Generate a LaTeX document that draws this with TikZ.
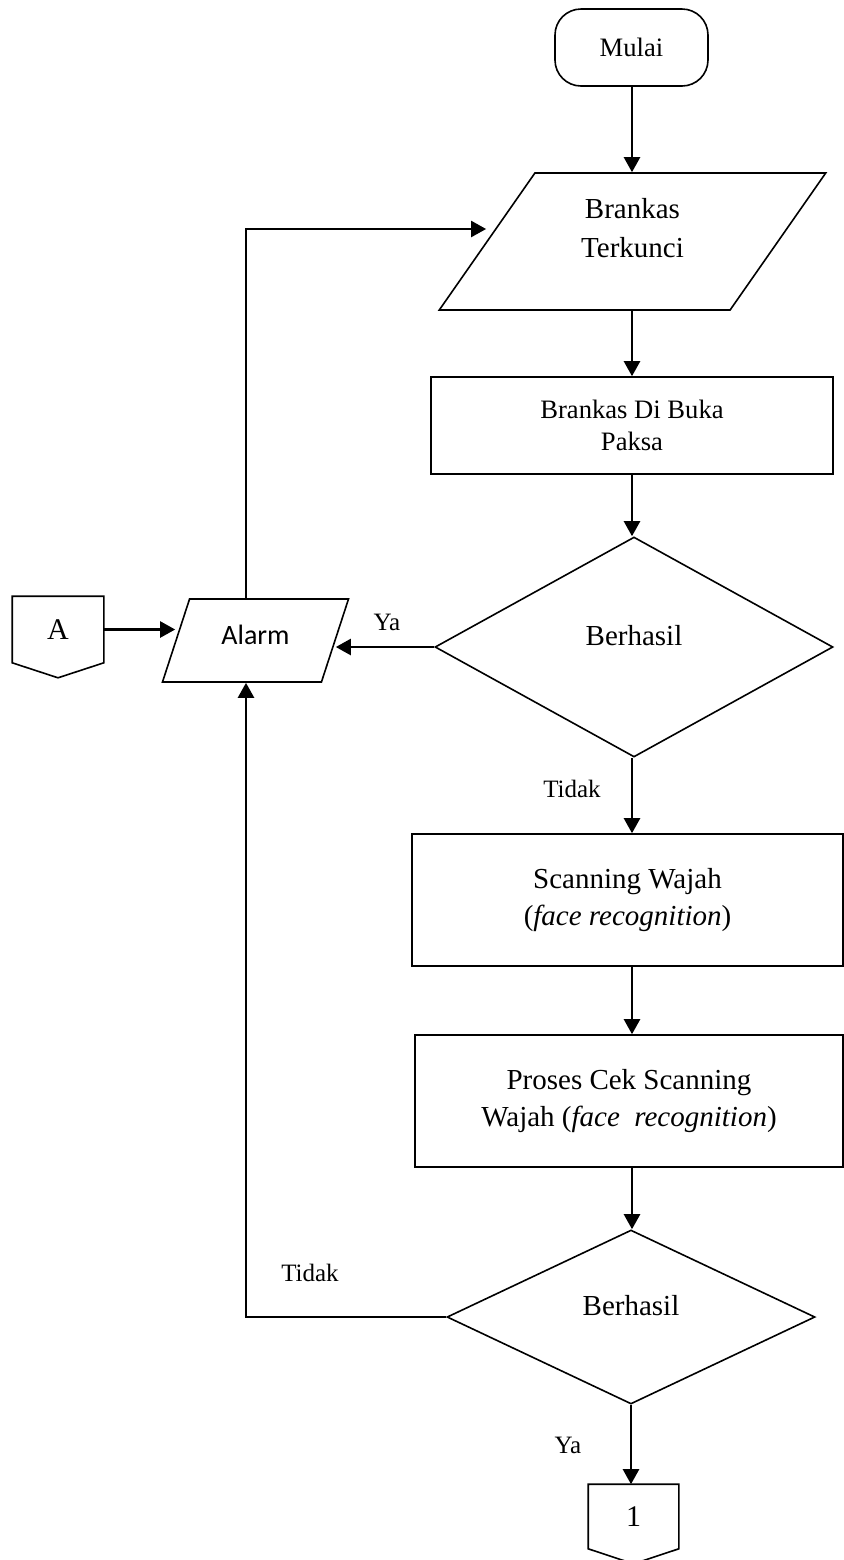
\documentclass[tikz,border=0pt]{standalone}
\usepackage{fontspec}
\setmainfont{Liberation Serif}
\newfontfamily\alarmfont{Carlito}
\usepackage{tikz}
\usetikzlibrary{shapes.geometric,arrows.meta}

\begin{document}
\begin{tikzpicture}[x=0.5pt,y=-0.5pt,
            outline/.style={draw,line width=0.8pt},
            box/.style={outline,inner sep=0pt,align=center,font=\fontsize{14.5}{18.5}\selectfont},
            datain/.style={box,trapezium,trapezium stretches=true},
            decision/.style={box,diamond,text depth=12pt},
            label/.style={font=\fontsize{12.5}{15}\selectfont,inner sep=0pt},
            arrow/.style={line width=1.2pt,-{Triangle[length=7.5pt,width=8pt]}}]
            \useasboundingbox (0,0) rectangle (844,1560);

            %%% COORDINATES %%%
            \coordinate (col) at (632,0);
            \coordinate (kiri) at (246,0);

            %%% SHAPES %%%
            \node[box,rounded corners=13pt,minimum width=76.5pt,minimum height=38.5pt,font=\fontsize{13.3}{16}\selectfont] (mulai) at (631.5,47.5) {Mulai};
            \node[datain,trapezium left angle=60,trapezium right angle=120,minimum width=193.5pt,minimum height=68.5pt,text depth=14pt,font=\fontsize{14.5}{19.5}\selectfont] (terkunci) at (632.5,241.5) {Brankas\\Terkunci};
            \node[box,minimum width=201pt,minimum height=48.5pt,font=\fontsize{13.3}{16}\selectfont] (paksa) at (632,425.5) {Brankas Di Buka\\Paksa};
            \node[decision,minimum width=199pt,minimum height=110pt] (cek1) at (634,647) {Berhasil};
            \node[datain,trapezium left angle=66,trapezium right angle=114,minimum width=93.5pt,minimum height=41.5pt,text depth=6pt,font=\alarmfont\fontsize{14}{17}\selectfont] (alarm) at (255.5,640.5) {Alarm};
            \node[box,draw=none,minimum width=45pt,minimum height=32.5pt,font=\fontsize{15}{18}\selectfont] (conA) at (58,629.5) {A};
            \node[box,minimum width=215.5pt,minimum height=66pt] (scan) at (627.5,900) {Scanning Wajah\\(\textit{face recognition})};
            \node[box,minimum width=214pt,minimum height=66pt] (proses) at (629,1101) {Proses Cek Scanning\\Wajah (\textit{face~ recognition})};
            \node[decision,minimum width=184pt,minimum height=87pt] (cek2) at (631,1317) {Berhasil};
            \node[box,draw=none,minimum width=44.5pt,minimum height=31.5pt,font=\fontsize{15}{18}\selectfont] (con1) at (633.5,1516.5) {1};

            %%% OFF-PAGE CONNECTORS %%%
            \draw[outline] (conA.north west) -- (conA.north east) -- (conA.south east) -- ([yshift=-7.5pt]conA.south) -- (conA.south west) -- cycle;
            \draw[outline] (con1.north west) -- (con1.north east) -- (con1.south east) -- ([yshift=-7.5pt]con1.south) -- (con1.south west) -- cycle;

            %%% LABELS %%%
            \node[label] (ya1) at (387,622) {Ya};
            \node[label] (tidak1) at (572,789) {Tidak};
            \node[label] (tidak2) at (310,1273) {Tidak};
            \node[label] (ya2) at (568,1445) {Ya};

            %%% ARROWS %%%
            \draw[arrow] (col |- mulai.south) -- (col |- terkunci.north);
            \draw[arrow] (col |- terkunci.south) -- (col |- paksa.north);
            \draw[arrow] (col |- paksa.south) -- (col |- cek1.north);
            \draw[arrow] (col |- cek1.south) -- (col |- scan.north);
            \draw[arrow] (col |- scan.south) -- (col |- proses.north);
            \draw[arrow] (col |- proses.south) -- (col |- cek2.north);
            \draw[arrow] (cek2.south) -- (cek2.south |- con1.north);
            \draw[arrow] (cek1.west) -- (cek1.west -| alarm.east);
            \draw[arrow] (conA.east) -- (conA.east -| alarm.west);
            \draw[arrow] (kiri |- alarm.north) |- ([yshift=6.25pt]terkunci.west);
            \draw[arrow] (cek2.west) -| (kiri |- alarm.south);
        \end{tikzpicture}
\end{document}
